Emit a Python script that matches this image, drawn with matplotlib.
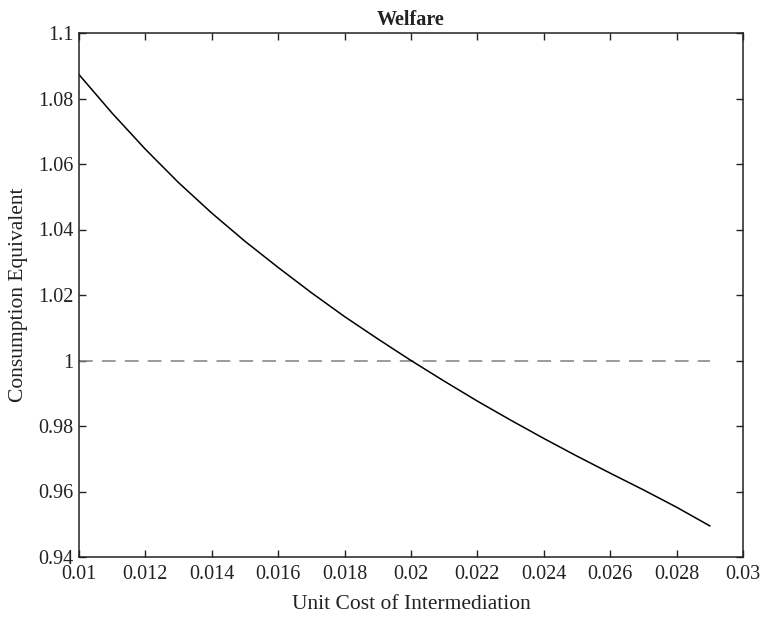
import matplotlib
matplotlib.use('Agg')
import matplotlib.pyplot as plt
from matplotlib.ticker import FixedLocator, FixedFormatter

plt.rcParams['font.family'] = ['Liberation Serif', 'DejaVu Serif']

# data
unit_cost = [0.010, 0.011, 0.012, 0.013, 0.014, 0.015, 0.016, 0.017, 0.018, 0.019,
             0.020, 0.021, 0.022, 0.023, 0.024, 0.025, 0.026, 0.027, 0.028, 0.029]
consumption_eq = [1.0873, 1.0755, 1.0645, 1.0543, 1.0450, 1.0364, 1.0284, 1.0207, 1.0134, 1.0066,
                  1.0000, 0.9937, 0.9876, 0.9818, 0.9762, 0.9708, 0.9656, 0.9605, 0.9552, 0.9495]
baseline = [1.0, 1.0]
baseline_x = [0.010, 0.029]

xticks = [0.010, 0.012, 0.014, 0.016, 0.018, 0.020, 0.022, 0.024, 0.026, 0.028, 0.030]
xtick_labels = ['0.01', '0.012', '0.014', '0.016', '0.018', '0.02',
                '0.022', '0.024', '0.026', '0.028', '0.03']
yticks = [0.94, 0.96, 0.98, 1.00, 1.02, 1.04, 1.06, 1.08, 1.10]
ytick_labels = ['0.94', '0.96', '0.98', '1', '1.02', '1.04', '1.06', '1.08', '1.1']

fig = plt.figure(figsize=(7.66, 6.20), dpi=100)
ax = fig.add_axes([79 / 766, 1 - 557 / 620, (743 - 79) / 766, (557 - 33) / 620])

ax.plot(baseline_x, baseline, color='#808080', lw=1.1, dashes=(9, 6))
ax.plot(unit_cost, consumption_eq, color='black', lw=1.1)

ax.set_xlim(0.01, 0.03)
ax.set_ylim(0.94, 1.1)
ax.xaxis.set_major_locator(FixedLocator(xticks))
ax.xaxis.set_major_formatter(FixedFormatter(xtick_labels))
ax.yaxis.set_major_locator(FixedLocator(yticks))
ax.yaxis.set_major_formatter(FixedFormatter(ytick_labels))

ax.tick_params(direction='in', length=5, width=1.0, top=True, right=True,
               labelsize=14.5, colors='#222222')
ax.tick_params(axis='x', pad=6)
ax.tick_params(axis='y', pad=4)
for s in ax.spines.values():
    s.set_linewidth(1.1)
    s.set_color('#222222')

ax.set_xlabel('Unit Cost of Intermediation', fontsize=15.5, labelpad=8, color='#222222')
ax.set_ylabel('Consumption Equivalent', fontsize=15.5, labelpad=7, color='#222222')
ax.set_title('Welfare', fontsize=14.5, fontweight='bold', pad=6, color='#222222')

fig.savefig('out.png', dpi=100)
